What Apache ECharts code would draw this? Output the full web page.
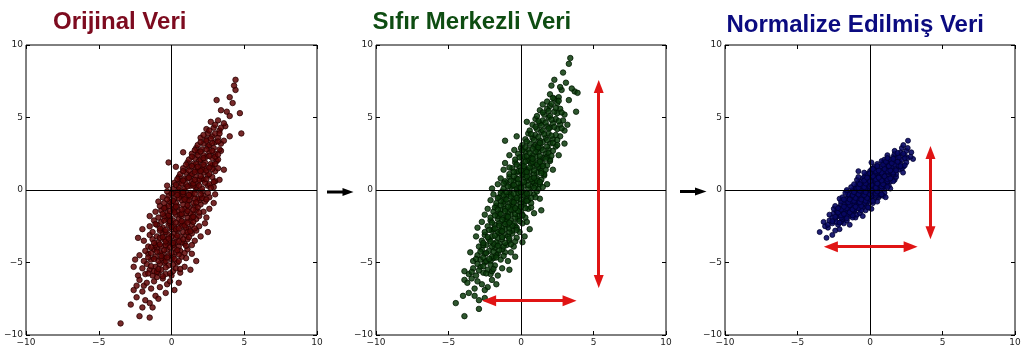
<!DOCTYPE html>
<html><head><meta charset="utf-8">
<script src="https://cdn.jsdelivr.net/npm/echarts@6/dist/echarts.min.js"></script>
<style>html,body{margin:0;padding:0;background:#fff;}#c{width:1031px;height:355px;}</style>
</head><body><div id="c"></div>
<script>
const panelTitles = ['Orijinal Veri', 'Sıfır Merkezli Veri', 'Normalize Edilmiş Veri'];
const tickValues = [-10, -5, 0, 5, 10];

// Panel 1: original data
const origPts = [
[-3.5,-9.2],[-2.2,-8.7],[-1.5,-8.8],[-2.0,-8.1],[-1.3,-8.1],
[-2.8,-7.9],[-2.4,-7.4],[-0.4,-7.1],[-1.8,-7.6],[-1.1,-7.3],[-2.0,-7.0],[-1.5,-7.8],[-0.9,-7.5],
[-2.6,-6.9],[0.2,-6.9],[-1.9,-6.6],[-1.4,-6.8],[-0.8,-6.7],[-0.3,-6.5],[-1.2,-6.3],[-2.2,-6.2],[-0.6,-6.1],[-1.7,-6.4],[-0.1,-6.3],[-1.0,-6.0],[0.5,-6.4],[-2.4,-6.6],
[-2.3,-5.9],[-1.8,-5.8],[-1.3,-5.9],[-0.9,-5.7],[-0.4,-5.8],[0.1,-5.6],[0.6,-5.7],[-2.0,-5.4],[-1.5,-5.5],[-1.1,-5.3],[-0.7,-5.5],[-0.2,-5.2],[0.3,-5.4],[0.9,-5.3],[-1.7,-5.1],[-0.5,-5.0],[-1.2,-5.6],[0.0,-5.9],[-2.6,-5.3],[1.3,-5.5],[-0.8,-5.1],[0.4,-5.0],
[-1.9,-4.9],[-1.4,-4.8],[-0.9,-4.9],[-0.5,-4.7],[0.0,-4.8],[0.5,-4.9],[1.0,-4.7],[-2.2,-4.5],[-1.6,-4.4],[-1.1,-4.6],[-0.6,-4.4],[-0.2,-4.5],[0.3,-4.3],[0.7,-4.6],[1.4,-4.4],[-1.8,-4.2],[-1.2,-4.1],[-0.8,-4.3],[-0.3,-4.1],[0.2,-4.0],[0.6,-4.2],[1.1,-4.1],[-2.5,-4.8],[-0.4,-4.9],[0.1,-4.6],[-1.0,-4.0],[1.7,-4.9],[-0.7,-4.7],
[-1.6,-3.9],[-1.1,-3.8],[-0.7,-3.9],[-0.3,-3.7],[0.1,-3.8],[0.5,-3.9],[0.9,-3.7],[1.4,-3.8],[-1.9,-3.5],[-1.3,-3.4],[-0.9,-3.6],[-0.5,-3.4],[-0.1,-3.5],[0.3,-3.3],[0.7,-3.6],[1.1,-3.4],[1.6,-3.5],[-1.5,-3.1],[-1.0,-3.2],[-0.6,-3.0],[-0.2,-3.1],[0.2,-3.0],[0.6,-3.2],[1.0,-3.1],[1.4,-3.0],[-0.4,-3.8],[0.3,-3.6],[-2.3,-3.3],[2.0,-3.2],[-0.8,-3.3],[0.8,-3.4],[0.0,-3.2],
[-1.3,-2.9],[-0.8,-2.8],[-0.4,-2.9],[0.0,-2.7],[0.4,-2.8],[0.8,-2.9],[1.2,-2.7],[1.7,-2.8],[-1.5,-2.5],[-1.0,-2.4],[-0.6,-2.6],[-0.2,-2.4],[0.2,-2.5],[0.6,-2.3],[1.0,-2.6],[1.4,-2.4],[1.9,-2.5],[-1.2,-2.1],[-0.7,-2.2],[-0.3,-2.0],[0.1,-2.1],[0.5,-2.0],[0.9,-2.2],[1.3,-2.1],[1.7,-2.0],[0.3,-2.7],[-0.1,-2.3],[0.7,-2.5],[2.3,-2.3],[-2.0,-2.7],[2.5,-2.9],[-0.5,-2.1],[1.1,-2.9],[1.5,-2.2],
[-0.9,-1.9],[-0.5,-1.8],[-0.1,-1.9],[0.3,-1.7],[0.7,-1.8],[1.1,-1.9],[1.5,-1.7],[1.9,-1.8],[-1.1,-1.5],[-0.7,-1.4],[-0.3,-1.6],[0.1,-1.4],[0.5,-1.5],[0.9,-1.3],[1.3,-1.6],[1.7,-1.4],[2.2,-1.5],[-0.8,-1.1],[-0.4,-1.2],[0.0,-1.0],[0.4,-1.1],[0.8,-1.0],[1.2,-1.2],[1.6,-1.1],[2.0,-1.0],[0.6,-1.7],[0.2,-1.3],[1.0,-1.6],[2.6,-1.3],[-1.5,-1.8],[2.4,-1.9],[-0.2,-1.1],[1.4,-1.9],[1.8,-1.2],
[-0.5,-0.9],[-0.1,-0.8],[0.3,-0.9],[0.7,-0.7],[1.1,-0.8],[1.5,-0.9],[1.9,-0.7],[2.3,-0.8],[-0.6,-0.5],[-0.2,-0.4],[0.2,-0.6],[0.6,-0.4],[1.0,-0.5],[1.4,-0.3],[1.8,-0.6],[2.2,-0.4],[2.6,-0.5],[-0.3,-0.1],[0.1,-0.2],[0.5,0.0],[0.9,-0.1],[1.3,-0.2],[1.7,0.0],[2.1,-0.1],[2.5,-0.2],[1.2,-0.7],[0.8,-0.3],[1.6,-0.6],[3.0,-0.3],[-0.9,-0.8],[2.9,-0.9],[0.4,-0.2],
[0.1,0.1],[0.5,0.2],[0.9,0.1],[1.3,0.3],[1.7,0.2],[2.1,0.1],[2.5,0.3],[2.9,0.2],[0.2,0.5],[0.6,0.6],[1.0,0.4],[1.4,0.6],[1.8,0.5],[2.2,0.7],[2.6,0.4],[3.0,0.6],[0.5,0.9],[0.9,0.8],[1.3,1.0],[1.7,0.9],[2.1,0.8],[2.5,1.0],[2.8,0.9],[-0.3,0.3],[3.3,0.7],[1.5,0.3],[1.1,0.8],[1.9,0.7],
[0.6,1.1],[1.0,1.2],[1.4,1.1],[1.8,1.3],[2.2,1.2],[2.6,1.1],[3.0,1.3],[0.8,1.5],[1.2,1.6],[1.6,1.4],[2.0,1.6],[2.4,1.5],[2.8,1.7],[3.2,1.5],[1.1,1.9],[1.5,1.8],[1.9,2.0],[2.3,1.9],[2.7,1.8],[3.1,2.0],[0.3,1.6],[3.6,1.4],[2.1,1.4],[1.7,1.8],[-0.2,1.9],
[1.2,2.1],[1.6,2.2],[2.0,2.1],[2.4,2.3],[2.8,2.2],[3.2,2.1],[1.4,2.5],[1.8,2.6],[2.2,2.4],[2.6,2.6],[3.0,2.5],[3.4,2.7],[1.7,2.9],[2.1,2.8],[2.5,3.0],[2.9,2.9],[3.3,2.8],[0.8,2.6],
[1.8,3.1],[2.2,3.2],[2.6,3.1],[3.0,3.3],[3.4,3.2],[2.0,3.6],[2.4,3.5],[2.8,3.7],[3.2,3.6],[3.6,3.4],[2.5,3.9],[3.0,3.9],[4.0,3.7],
[2.4,4.2],[2.9,4.3],[3.3,4.1],[3.7,4.4],[2.7,4.7],[3.2,4.8],[3.6,4.6],[4.8,3.9],
[3.8,5.4],[4.2,6.0],[4.7,5.3],[3.4,5.5],[4.0,5.1],
[3.1,6.2],[4.0,6.4],[4.4,6.9],
[4.4,7.6],[4.3,7.2]
];
// Panel 1: additional points in the dense core
const origDensePts = [
[-1.6,-5.75],[-1.0,-5.65],[-0.6,-5.95],[-0.1,-5.75],
[-1.4,-5.25],[-0.9,-5.45],[-0.4,-5.35],[0.1,-5.15],[0.6,-5.45],
[-1.6,-4.65],[-1.2,-4.75],[-0.7,-4.55],[-0.3,-4.65],[0.2,-4.75],[0.5,-4.45],[-1.4,-4.35],
[-1.0,-4.25],[-0.5,-4.15],[0.0,-4.35],[0.4,-4.15],[0.9,-4.35],[-1.4,-3.95],[-0.1,-3.95],
[-1.2,-3.65],[-0.8,-3.75],[-0.4,-3.55],[0.1,-3.65],[0.5,-3.55],[1.0,-3.85],[-0.6,-3.25],[0.4,-3.15],[1.2,-3.25],[-0.2,-3.35],
[-0.8,-2.65],[-0.4,-2.75],[0.0,-2.55],[0.5,-2.65],[0.9,-2.45],[1.3,-2.85],[-1.1,-2.35],[0.3,-2.25],[-0.1,-2.15],[1.1,-2.25],[0.7,-2.15],[1.6,-2.65],
[-0.6,-1.65],[-0.2,-1.75],[0.2,-1.55],[0.7,-1.65],[1.1,-1.45],[1.5,-1.85],[-0.5,-1.25],[0.3,-1.15],[0.7,-1.35],[1.1,-1.05],[1.5,-1.35],[1.9,-1.55],[-0.1,-1.45],
[-0.3,-0.65],[0.1,-0.75],[0.5,-0.55],[0.9,-0.65],[1.3,-0.45],[1.7,-0.85],[2.1,-0.55],[0.0,-0.25],[0.4,-0.35],[0.8,-0.15],[1.2,-0.35],[1.6,-0.25],[2.0,-0.3],[2.4,-0.65],
[0.3,0.35],[0.7,0.45],[1.1,0.25],[1.5,0.45],[1.9,0.3],[2.3,0.5],[2.7,0.15],[0.4,0.75],[0.8,0.65],[1.2,0.85],[1.6,0.7],[2.0,0.95],[2.4,0.75],[2.9,0.55],
[0.8,1.3],[1.2,1.35],[1.6,1.25],[2.0,1.3],[2.4,1.35],[2.8,1.45],[1.0,1.75],[1.4,1.65],[1.8,1.6],[2.2,1.75],[2.6,1.55],[3.0,1.8],
[1.4,2.3],[1.8,2.4],[2.2,2.2],[2.6,2.35],[3.0,2.3],[1.6,2.75],[2.0,2.65],[2.4,2.8],[2.8,2.7],[3.2,2.45],
[2.0,3.3],[2.4,3.4],[2.8,3.25],[3.2,3.35],[2.2,3.8],[2.7,3.55],[3.3,3.9],[2.6,4.1],[3.0,4.5],[3.4,4.3]
];

// Panel 2: zero-centred data
const centeredPts = [
[-3.9,-8.7],[-2.9,-8.2],
[-4.5,-7.8],[-3.2,-7.3],[-2.5,-7.45],[-3.6,-7.1],[-2.9,-7.6],[-4.0,-7.3],
[-2.3,-6.7],[-3.9,-6.2],[-3.7,-6.4],[-3.2,-6.8],[-2.7,-6.5],[-2.0,-6.2],[-3.4,-6.1],[-2.5,-6.9],[-1.7,-6.5],[-3.0,-6.3],
[-3.6,-5.8],[-3.1,-5.9],[-2.6,-5.7],[-2.1,-5.8],[-1.6,-5.9],[-3.3,-5.4],[-2.8,-5.3],[-2.3,-5.5],[-1.8,-5.2],[-1.3,-5.4],[-3.0,-5.1],[-2.5,-5.0],[-2.0,-5.6],[-0.8,-5.5],[-3.9,-5.6],
[-3.3,-4.9],[-2.8,-4.8],[-2.4,-4.9],[-1.9,-4.7],[-1.4,-4.8],[-0.9,-4.9],[-3.0,-4.5],[-2.5,-4.4],[-2.0,-4.6],[-1.6,-4.4],[-1.1,-4.3],[-2.7,-4.1],[-2.2,-4.2],[-1.8,-4.0],[-1.3,-4.1],[-0.7,-4.3],[-3.5,-4.3],[-2.1,-4.9],[-0.4,-4.6],[-1.7,-4.5],
[-2.9,-3.9],[-2.4,-3.8],[-2.0,-3.9],[-1.5,-3.7],[-1.0,-3.8],[-0.5,-3.9],[-2.7,-3.5],[-2.2,-3.4],[-1.7,-3.6],[-1.3,-3.4],[-0.8,-3.5],[-0.3,-3.3],[-2.5,-3.1],[-2.0,-3.2],[-1.5,-3.0],[-1.1,-3.1],[-0.6,-3.0],[-3.1,-3.2],[-1.9,-3.7],[-1.2,-3.9],[0.1,-3.6],[0.25,-3.2],[-2.6,-3.8],[-0.9,-3.2],[-1.6,-3.3],
[-2.5,-2.9],[-2.0,-2.8],[-1.6,-2.9],[-1.1,-2.7],[-0.6,-2.8],[-0.1,-2.9],[-2.3,-2.5],[-1.8,-2.4],[-1.3,-2.6],[-0.9,-2.4],[-0.4,-2.5],[0.1,-2.3],[-2.1,-2.1],[-1.6,-2.0],[-1.1,-2.2],[-0.7,-2.1],[-0.2,-2.0],[0.4,-2.2],[-2.7,-2.2],[-1.4,-2.8],[-0.8,-2.9],[-1.9,-2.7],[-0.3,-2.6],[0.6,-2.7],[-3.0,-2.6],[-1.0,-2.0],[-1.5,-2.3],[-0.5,-2.3],
[-2.1,-1.9],[-1.6,-1.8],[-1.2,-1.9],[-0.7,-1.7],[-0.2,-1.8],[0.3,-1.9],[-1.9,-1.5],[-1.4,-1.4],[-0.9,-1.6],[-0.5,-1.4],[0.0,-1.5],[0.5,-1.3],[-1.7,-1.1],[-1.2,-1.0],[-0.7,-1.2],[-0.3,-1.1],[0.2,-1.0],[0.7,-1.2],[-2.3,-1.3],[-1.0,-1.8],[-0.4,-1.9],[-1.5,-1.6],[0.1,-1.7],[1.4,-1.4],[-2.5,-1.7],[0.9,-1.6],[-0.6,-1.0],[-1.1,-1.3],[-0.1,-1.3],[-1.8,-1.2],
[-1.7,-0.9],[-1.2,-0.8],[-0.8,-0.9],[-0.3,-0.7],[0.2,-0.8],[0.7,-0.9],[-1.5,-0.5],[-1.0,-0.4],[-0.5,-0.6],[-0.1,-0.4],[0.4,-0.5],[0.9,-0.3],[-1.3,-0.1],[-0.8,-0.2],[-0.3,0.0],[0.1,-0.1],[0.6,-0.2],[1.1,-0.1],[-1.9,-0.3],[-0.6,-0.8],[0.0,-0.9],[-1.1,-0.6],[0.5,-0.7],[1.3,-0.6],[-2.1,-0.7],[1.0,-0.5],[-0.2,-0.2],[-0.7,-0.3],[0.3,-0.3],[-1.4,-0.2],[-2.0,0.1],
[-1.2,0.1],[-0.7,0.2],[-0.3,0.1],[0.2,0.3],[0.7,0.2],[1.2,0.1],[-1.0,0.5],[-0.5,0.6],[0.0,0.4],[0.4,0.6],[0.9,0.5],[1.4,0.7],[-0.8,0.9],[-0.3,0.8],[0.1,1.0],[0.6,0.9],[1.1,0.8],[1.6,1.0],[-1.6,0.4],[-0.1,0.2],[0.5,0.1],[-0.6,0.3],[1.0,0.3],[1.8,0.4],[-1.4,0.8],[0.3,0.8],[0.8,0.6],[-0.2,0.5],[1.3,0.4],[-1.1,0.6],[1.5,0.2],
[-0.8,1.1],[-0.3,1.2],[0.1,1.1],[0.6,1.3],[1.1,1.2],[1.6,1.1],[-0.6,1.5],[-0.1,1.6],[0.4,1.4],[0.8,1.6],[1.3,1.5],[1.8,1.7],[-0.4,1.9],[0.1,1.8],[0.5,2.0],[1.0,1.9],[1.5,1.8],[2.0,2.0],[-1.2,1.4],[0.3,1.2],[0.9,1.1],[-0.2,1.3],[1.4,1.3],[2.2,1.4],[-1.1,1.86],[0.7,1.8],[1.2,1.6],[0.2,1.5],[1.7,1.4],
[-0.4,2.1],[0.1,2.2],[0.5,2.1],[1.0,2.3],[1.5,2.2],[2.0,2.1],[-0.2,2.5],[0.3,2.6],[0.8,2.4],[1.2,2.6],[1.7,2.5],[2.2,2.7],[0.0,2.9],[0.5,2.8],[0.9,3.0],[1.4,2.9],[1.9,2.8],[2.4,3.0],[-0.8,2.4],[0.7,2.2],[1.3,2.1],[0.2,2.3],[1.8,2.3],[2.6,2.4],[1.1,2.8],[-0.46,2.76],
[0.1,3.1],[0.6,3.2],[1.0,3.1],[1.5,3.3],[2.0,3.2],[2.5,3.1],[0.3,3.5],[0.8,3.6],[1.3,3.4],[1.7,3.6],[2.2,3.5],[2.7,3.7],[0.5,3.9],[1.0,3.8],[1.4,4.0],[1.9,3.9],[2.4,3.8],[3.0,3.2],[-1.1,3.4],[1.2,3.1],[1.8,3.0],[-0.3,3.7],
[0.6,4.1],[1.1,4.2],[1.5,4.1],[2.0,4.3],[2.5,4.2],[3.0,4.1],[0.8,4.5],[1.3,4.6],[1.8,4.4],[2.2,4.6],[2.7,4.5],[1.0,4.9],[1.5,4.8],[1.9,5.0],[2.4,4.9],[2.9,4.8],[0.4,4.7],[3.2,4.5],
[1.1,5.1],[1.6,5.2],[2.0,5.1],[2.5,5.3],[3.0,5.2],[1.3,5.5],[1.8,5.6],[2.3,5.4],[2.7,5.6],[3.8,5.4],[1.5,5.9],[2.0,5.8],[2.5,6.0],
[1.8,6.1],[2.3,6.3],[2.8,6.9],[3.7,6.8],[3.9,6.7],[2.0,6.6],[2.6,6.4],[3.3,6.2],
[2.3,7.6],[3.1,7.4],[2.7,7.1],[3.5,7.0],[2.1,7.2],
[3.3,8.7],[2.9,8.1],
[3.4,9.1]
];
// Panel 2: additional points in the dense core
const centeredDensePts = [
[-3.4,-5.65],[-2.9,-5.55],[-2.4,-5.75],[-1.9,-5.45],[-2.6,-5.25],[-2.1,-5.15],
[-3.1,-4.75],[-2.6,-4.65],[-2.2,-4.75],[-1.7,-4.65],[-1.2,-4.55],[-2.8,-4.25],[-2.4,-4.35],[-1.9,-4.25],[-1.5,-4.15],
[-2.6,-3.65],[-2.1,-3.55],[-1.6,-3.85],[-1.1,-3.65],[-0.7,-3.75],[-2.3,-3.25],[-1.8,-3.15],[-1.3,-3.25],[-0.8,-3.35],[-0.4,-3.55],
[-2.2,-2.75],[-1.8,-2.65],[-1.3,-2.85],[-0.8,-2.65],[-0.3,-2.75],[-2.0,-2.25],[-1.5,-2.45],[-1.1,-2.35],[-0.6,-2.45],[-0.1,-2.15],[-1.3,-2.05],[-0.8,-2.25],
[-1.8,-1.75],[-1.4,-1.65],[-0.9,-1.85],[-0.4,-1.65],[0.1,-1.75],[-1.6,-1.35],[-1.1,-1.45],[-0.7,-1.35],[-0.2,-1.45],[0.3,-1.25],[-1.4,-1.05],[-0.9,-1.15],[-0.4,-1.25],[0.0,-1.15],
[-1.4,-0.75],[-1.0,-0.65],[-0.5,-0.85],[0.0,-0.65],[0.4,-0.75],[-1.2,-0.35],[-0.7,-0.45],[-0.3,-0.55],[0.2,-0.35],[0.7,-0.55],[-1.0,-0.15],[-0.5,-0.25],[0.0,-0.15],[0.4,-0.25],[-1.6,-0.55],
[-0.9,0.25],[-0.5,0.35],[0.0,0.15],[0.5,0.35],[0.9,0.15],[-0.7,0.65],[-0.2,0.75],[0.2,0.55],[0.7,0.75],[1.1,0.65],[-1.2,0.45],[-0.5,0.95],[0.4,0.95],[0.9,0.85],[1.3,0.55],
[-0.5,1.25],[0.0,1.35],[0.4,1.25],[0.9,1.35],[1.4,1.15],[-0.3,1.75],[0.2,1.65],[0.6,1.55],[1.1,1.75],[1.5,1.65],[-0.8,1.55],[0.8,1.95],[0.3,1.95],[1.3,1.95],
[-0.1,2.25],[0.4,2.35],[0.8,2.15],[1.3,2.35],[1.7,2.15],[0.1,2.75],[0.6,2.55],[1.0,2.65],[1.5,2.75],[1.9,2.55],[0.3,2.95],[0.8,2.85],[1.2,2.95],[2.1,2.35],
[0.4,3.35],[0.9,3.45],[1.3,3.25],[1.8,3.45],[2.2,3.25],[0.7,3.85],[1.2,3.65],[1.6,3.85],[2.1,3.75],[2.5,3.45],
[1.0,4.35],[1.4,4.45],[1.9,4.25],[2.3,4.35],[2.8,4.25],[1.2,4.75],[1.7,4.65],[2.1,4.85],[2.6,4.75],
[1.5,5.35],[1.9,5.45],[2.4,5.65],[2.8,5.35],[2.1,5.95],[2.2,6.35],[2.6,6.15]
];

// Panel 3: normalized data
const normalizedPts = [
[-3.0,-3.3],[-2.6,-3.1],
[-3.47,-2.9],[-2.9,-2.6],[-2.4,-2.8],[-3.1,-2.5],[-2.1,-2.7],
[-2.9,-2.4],[-2.6,-2.3],[-2.2,-2.4],[-1.8,-2.3],[-2.8,-2.1],[-2.4,-2.0],[-2.0,-2.2],[-1.6,-2.1],[-3.2,-2.2],[-1.4,-2.4],[-2.3,-2.2],[-1.9,-2.0],
[-2.6,-1.9],[-2.2,-1.8],[-1.8,-1.9],[-1.4,-1.8],[-1.0,-1.9],[-2.5,-1.6],[-2.1,-1.7],[-1.7,-1.6],[-1.3,-1.6],[-0.9,-1.7],[-2.3,-1.5],[-1.9,-1.5],[-1.5,-1.5],[-1.1,-1.5],[-2.8,-1.7],[-0.7,-1.6],[-1.6,-1.8],[-2.0,-1.9],[-1.2,-1.9],[-0.5,-1.8],
[-2.3,-1.4],[-1.9,-1.4],[-1.5,-1.3],[-1.1,-1.4],[-0.7,-1.3],[-0.3,-1.4],[-2.1,-1.2],[-1.7,-1.1],[-1.3,-1.2],[-0.9,-1.1],[-0.5,-1.2],[-0.1,-1.2],[-2.0,-1.0],[-1.6,-1.0],[-1.2,-1.0],[-0.8,-1.0],[-0.4,-1.0],[-2.5,-1.3],[-1.4,-1.4],[-1.0,-1.3],[-0.6,-1.4],[-1.8,-1.3],[-0.2,-1.1],[0.1,-1.3],[-2.4,-1.1],[-1.5,-1.1],[-1.1,-1.2],[-0.13,-1.2],
[-1.8,-0.9],[-1.4,-0.9],[-1.0,-0.8],[-0.6,-0.9],[-0.2,-0.8],[0.2,-0.9],[-1.7,-0.7],[-1.3,-0.6],[-0.9,-0.7],[-0.5,-0.6],[-0.1,-0.7],[0.3,-0.6],[-1.5,-0.5],[-1.1,-0.5],[-0.7,-0.5],[-0.3,-0.5],[0.1,-0.5],[-2.0,-0.8],[-1.2,-0.9],[-0.8,-0.8],[-0.4,-0.9],[0.0,-0.8],[-1.6,-0.6],[-0.2,-0.6],[0.5,-0.8],[-2.1,-0.6],[-1.0,-0.6],[-0.6,-0.7],[0.6,-0.5],[-1.9,-0.5],[-1.3,-0.8],[-0.4,-0.7],[0.1,-0.7],[-0.8,-0.6],
[-1.4,-0.4],[-1.0,-0.4],[-0.6,-0.3],[-0.2,-0.4],[0.2,-0.3],[0.6,-0.4],[-1.3,-0.2],[-0.9,-0.1],[-0.5,-0.2],[-0.1,-0.1],[0.3,-0.2],[0.7,-0.1],[-1.2,0.0],[-0.8,0.0],[-0.4,0.0],[0.0,0.0],[0.4,0.0],[1.0,-0.2],[-1.6,-0.1],[-1.1,-0.3],[-0.7,-0.4],[-0.3,-0.3],[0.1,-0.4],[0.5,-0.2],[-1.5,-0.3],[-0.8,-0.2],[-0.4,-0.1],[0.0,-0.2],[0.9,-0.4],[1.08,-0.5],[-1.7,-0.2],[-1.0,-0.1],[0.2,-0.1],[-0.6,-0.1],[0.6,-0.3],[-0.2,-0.3],[-1.2,-0.4],[0.4,-0.4],
[-1.0,0.1],[-0.6,0.1],[-0.2,0.2],[0.2,0.1],[0.6,0.2],[1.0,0.1],[-0.9,0.3],[-0.5,0.4],[-0.1,0.3],[0.3,0.4],[0.7,0.3],[1.1,0.4],[-0.8,0.5],[-0.4,0.5],[0.0,0.5],[0.4,0.5],[0.8,0.5],[1.3,0.3],[-1.3,0.2],[-0.7,0.2],[-0.3,0.1],[0.1,0.2],[0.5,0.3],[0.9,0.2],[-1.1,0.4],[-0.4,0.3],[0.2,0.3],[0.6,0.4],[1.2,0.5],[-1.6,0.0],[-0.2,0.4],[0.4,0.2],[0.8,0.1],[1.4,0.1],[-0.6,0.3],[1.0,0.3],[0.0,0.1],[-0.9,0.1],
[-0.6,0.6],[-0.2,0.6],[0.2,0.7],[0.6,0.6],[1.0,0.7],[1.4,0.6],[-0.5,0.8],[-0.1,0.9],[0.3,0.8],[0.7,0.9],[1.1,0.8],[1.5,0.9],[-0.3,1.0],[0.1,1.0],[0.5,1.0],[0.9,1.0],[1.3,1.0],[-0.9,0.7],[0.0,0.7],[0.4,0.6],[0.8,0.7],[1.2,0.6],[1.7,0.7],[-0.4,0.9],[0.5,0.8],[0.9,0.8],[1.3,0.8],[1.8,0.9],[-0.8,0.9],[0.2,0.9],[0.6,0.9],[1.0,0.9],[-0.3,0.7],[1.6,0.6],
[-0.2,1.1],[0.2,1.1],[0.6,1.2],[1.0,1.1],[1.4,1.2],[1.8,1.1],[0.0,1.3],[0.4,1.4],[0.8,1.3],[1.2,1.4],[1.6,1.3],[2.0,1.4],[0.2,1.5],[0.6,1.5],[1.0,1.5],[1.4,1.5],[1.8,1.5],[-0.8,1.3],[-0.4,1.2],[0.4,1.2],[0.8,1.1],[1.2,1.2],[1.6,1.1],[2.28,1.2],[0.1,1.4],[1.0,1.3],[1.5,1.4],[2.2,1.5],
[0.3,1.6],[0.7,1.6],[1.1,1.7],[1.5,1.6],[1.9,1.7],[2.3,1.6],[0.5,1.8],[0.9,1.9],[1.3,1.8],[1.7,1.9],[2.1,1.8],[2.5,1.9],[0.8,2.0],[1.2,2.0],[1.6,2.0],[2.0,2.0],[0.1,1.9],[1.0,1.7],[1.4,1.9],[2.4,1.7],
[1.0,2.1],[1.4,2.1],[1.8,2.2],[2.2,2.1],[2.6,2.2],[2.97,2.14],[1.2,2.4],[1.6,2.3],[2.0,2.4],[2.4,2.4],[2.8,2.3],[1.7,2.5],
[1.7,2.7],[2.1,2.6],[2.5,2.7],[2.85,2.6],[2.2,2.9],[2.6,2.9],
[2.62,3.4],[2.3,3.1]
];
// Panel 3: additional points in the dense core
const normalizedDensePts = [
[-2.6,-2.15],[-2.1,-2.25],
[-2.4,-1.85],[-2.0,-1.75],[-1.6,-1.95],[-1.2,-1.75],[-2.2,-1.55],[-1.8,-1.65],[-1.4,-1.55],
[-2.0,-1.35],[-1.6,-1.25],[-1.2,-1.35],[-0.8,-1.25],[-1.8,-1.15],[-1.4,-1.05],[-1.0,-1.15],[-0.6,-1.1],[-2.2,-1.25],
[-1.5,-0.85],[-1.1,-0.75],[-0.7,-0.85],[-0.3,-0.75],[-1.4,-0.65],[-1.0,-0.55],[-0.6,-0.65],[-0.2,-0.55],[0.2,-0.75],[-1.8,-0.65],
[-1.2,-0.35],[-0.8,-0.3],[-0.4,-0.35],[0.0,-0.3],[0.4,-0.25],[-1.1,-0.15],[-0.7,-0.05],[-0.3,-0.15],[0.1,-0.05],[0.5,-0.1],[0.8,-0.3],
[-0.8,0.15],[-0.4,0.2],[0.0,0.25],[0.4,0.15],[0.8,0.25],[-0.7,0.4],[-0.3,0.45],[0.1,0.35],[0.5,0.45],[0.9,0.4],[1.2,0.2],
[-0.4,0.65],[0.0,0.6],[0.4,0.75],[0.8,0.65],[1.2,0.75],[-0.2,0.85],[0.2,0.95],[0.6,0.85],[1.0,0.95],[1.4,0.8],
[0.0,1.15],[0.4,1.3],[0.8,1.2],[1.2,1.3],[1.6,1.2],[0.2,1.45],[0.6,1.35],[1.0,1.45],[1.4,1.35],[1.8,1.35],
[0.5,1.65],[0.9,1.75],[1.3,1.65],[1.7,1.75],[2.1,1.65],[1.1,1.95],[1.5,1.85],[1.9,1.95],
[1.2,2.2],[1.6,2.15],[2.0,2.25],[2.4,2.2],[1.9,2.55],[2.3,2.5]
];

const panelData = [origPts.concat(origDensePts), centeredPts.concat(centeredDensePts), normalizedPts.concat(normalizedDensePts)];
const fills = ['rgba(95,5,5,0.85)', 'rgba(10,58,10,0.85)', 'rgba(8,8,100,0.9)'];
const edges = ['#2a0000', '#001800', '#000030'];
const dotSizes = [5.5, 5.5, 5];
const titleColors = ['#7d0b1f', '#0e4d12', '#0b0b80'];

const chart = echarts.init(document.getElementById('c'), null, {renderer: 'canvas'});
const gridPos = [
  {left: 26, top: 45, width: 291, height: 290},
  {left: 376, top: 45, width: 290, height: 290},
  {left: 725, top: 45, width: 290, height: 290}
];
const lab = v => (v < 0 ? '\u2212' : '') + Math.abs(v);
const tickStyle = {show: true, inside: true, length: 4, lineStyle: {color: '#000', width: 1}};
const xAxes = [], yAxes = [], series = [];
const tmin = tickValues[0], tmax = tickValues[tickValues.length - 1], tint = tickValues[1] - tickValues[0];
gridPos.forEach((g, i) => {
  xAxes.push({type: 'value', gridIndex: i, position: 'bottom', min: tmin, max: tmax, interval: tint,
    axisLine: {show: false, onZero: false}, axisTick: tickStyle, splitLine: {show: false},
    axisLabel: {formatter: lab, fontFamily: 'DejaVu Sans', fontSize: 9, color: '#222', margin: 3, showMinLabel: true, showMaxLabel: true}});
  xAxes.push({type: 'value', gridIndex: i, position: 'top', min: tmin, max: tmax, interval: tint,
    axisLine: {show: false, onZero: false}, axisTick: tickStyle, splitLine: {show: false}, axisLabel: {show: false}});
  yAxes.push({type: 'value', gridIndex: i, position: 'left', min: tmin, max: tmax, interval: tint,
    axisLine: {show: false, onZero: false}, axisTick: tickStyle, splitLine: {show: false},
    axisLabel: {formatter: lab, fontFamily: 'DejaVu Sans', fontSize: 9, color: '#222', margin: 3, showMinLabel: true, showMaxLabel: true}});
  yAxes.push({type: 'value', gridIndex: i, position: 'right', min: tmin, max: tmax, interval: tint,
    axisLine: {show: false, onZero: false}, axisTick: tickStyle, splitLine: {show: false}, axisLabel: {show: false}});
});

const redLine = {color: '#e01414', width: 3, type: 'solid'};
const vHead = {symbol: 'triangle', symbolSize: [10, 13]};
const hHead = {symbol: 'triangle', symbolSize: [11, 14]};
const arrowSets = [
  [],
  [
    [Object.assign({coord: [5.36, 7.14]}, vHead), Object.assign({coord: [5.36, -6.31]}, vHead)],
    [Object.assign({coord: [-2.2, -7.63]}, hHead), Object.assign({coord: [3.35, -7.63]}, hHead)]
  ],
  [
    [Object.assign({coord: [4.17, 2.58]}, vHead), Object.assign({coord: [4.17, -2.95]}, vHead)],
    [Object.assign({coord: [-2.7, -3.91]}, hHead), Object.assign({coord: [2.8, -3.91]}, hHead)]
  ]
];

panelData.forEach((pts, i) => {
  const mlData = [{xAxis: 0}, {yAxis: 0}].concat(arrowSets[i].map(a => {
    a[0].lineStyle = redLine; return a;
  }));
  series.push({
    type: 'scatter', name: panelTitles[i], xAxisIndex: i * 2, yAxisIndex: i * 2,
    data: pts, symbol: 'circle', symbolSize: dotSizes[i],
    itemStyle: {color: fills[i], borderColor: edges[i], borderWidth: 0.8, opacity: 1},
    markLine: {silent: true, symbol: ['none', 'none'], animation: false,
      lineStyle: {color: '#000', width: 1, type: 'solid'}, label: {show: false},
      emphasis: {disabled: true}, data: mlData}
  });
});

const titleLeft = [53, 372.5, 726.5];
const titleTop = [10, 10, 13.5];
const option = {
  animation: false,
  backgroundColor: '#fff',
  title: panelTitles.map((t, i) => ({
    text: t, left: titleLeft[i], top: titleTop[i], padding: 0,
    textStyle: {fontFamily: 'Liberation Sans, Arial, sans-serif', fontWeight: 'bold', fontSize: 24, color: titleColors[i]}
  })),
  grid: gridPos.map(g => Object.assign({show: true, borderColor: '#000', borderWidth: 1, backgroundColor: 'transparent', containLabel: false}, g)),
  xAxis: xAxes,
  yAxis: yAxes,
  series: series,
  graphic: [
    {type: 'rect', shape: {x: 327, y: 190.5, width: 17, height: 3}, style: {fill: '#000'}},
    {type: 'polygon', shape: {points: [[342.5, 188], [353.5, 192], [342.5, 196]]}, style: {fill: '#000'}},
    {type: 'rect', shape: {x: 680, y: 190, width: 16, height: 3}, style: {fill: '#000'}},
    {type: 'polygon', shape: {points: [[695, 187.5], [706.5, 191.5], [695, 195.5]]}, style: {fill: '#000'}}
  ]
};
chart.setOption(option);
</script>
</body></html>
